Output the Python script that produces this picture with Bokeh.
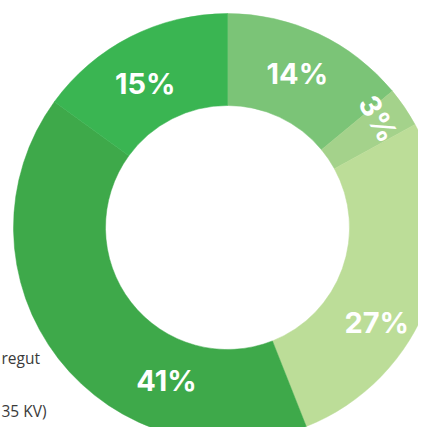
import numpy as np
from bokeh.plotting import figure
from bokeh.models import ColumnDataSource, Range1d
from bokeh.core.properties import value
from bokeh.embed import file_html
from bokeh.resources import INLINE

# data (clockwise from top)
values = [14, 3, 27, 41, 15]
labels = ["14%", "3%", "27%", "41%", "15%"]
colors = ["#7bc477", "#a4d28b", "#bcdd98", "#3ea94a", "#3ab552"]
legend_fragments = ["regut", "35 KV)"]

# layout / style
W, H = 418, 427
cx, cy = 227, 200          # centre in pixel-like data units
r_out, r_in = 214, 122
label_theta = [24.4, 54.2, 122.5, 201.7, 330.3]   # clockwise degrees from top
label_r = [169, 186, 177, 165, 166]
label_rot = [0, -60, 0, 0, 0]

p = figure(width=W, height=H, output_backend="svg", toolbar_location=None,
           x_range=Range1d(0, W), y_range=Range1d(0, H), min_border=0)
p.axis.visible = False
p.grid.visible = False
p.outline_line_color = None
p.background_fill_color = "white"
p.border_fill_color = "white"

total = sum(values)
cum = np.cumsum([0] + values) / total * 360.0
start = [np.radians(90 - cum[i + 1]) for i in range(len(values))]
end = [np.radians(90 - cum[i]) for i in range(len(values))]

src = ColumnDataSource(dict(start=start, end=end, color=colors))
p.annular_wedge(x=cx, y=cy, inner_radius=r_in, outer_radius=r_out,
                start_angle="start", end_angle="end", direction="anticlock",
                fill_color="color", line_color="color", line_width=0.5, source=src)

th = np.radians(label_theta)
lx = [cx + r * np.sin(t) for r, t in zip(label_r, th)]
ly = [cy + r * np.cos(t) for r, t in zip(label_r, th)]
lsrc = ColumnDataSource(dict(x=lx, y=ly, text=labels,
                             angle=[np.radians(a) for a in label_rot]))
p.text(x="x", y="y", text="text", angle="angle", source=lsrc,
       text_font=value("Inter"), text_font_style="bold", text_font_size="29px",
       text_color="white", text_align="center", text_baseline="middle")

# legend texts at the left edge
p.text(x=[1, 1], y=[H - 357, H - 410], text=legend_fragments,
       text_font=value("Open Sans"), text_font_size="15.5px", text_color="#3a3a3a",
       text_align="left", text_baseline="middle")

open("out.html", "w").write(file_html(p, INLINE))
